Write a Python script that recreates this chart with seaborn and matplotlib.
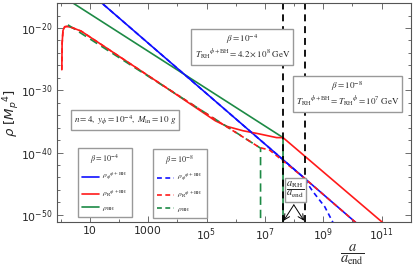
import numpy as np
import pandas as pd
import matplotlib
matplotlib.use("Agg")
import matplotlib.pyplot as plt
import seaborn as sns
from matplotlib.lines import Line2D
from matplotlib.ticker import FixedLocator, NullFormatter

# curves as (log10 a/a_end, log10 rho)
blue_solid_x = [0.0, 10.5]
blue_solid_y = [-10.29, -52.8]
blue_dash_x = [0.0, 8.3, 8.65, 9.05, 9.35]
blue_dash_y = [-10.29, -43.9, -46.3, -48.7, -51.4]

red_solid_x = [0.04, 0.05, 0.08, 0.14, 0.22, 0.40, 0.70, 3.40, 5.30, 5.70, 6.25, 6.80, 7.40, 7.62, 11.2]
red_solid_y = [-26.7, -22.5, -20.4, -19.8, -19.75, -19.95, -20.5, -28.9, -34.9, -35.8, -36.5, -37.0, -37.6, -37.6, -51.9]
red_dash_x = [0.04, 0.05, 0.08, 0.14, 0.22, 0.40, 0.70, 3.40, 5.30, 6.82, 7.16, 8.3, 10.5]
red_dash_y = [-26.7, -22.5, -20.4, -19.8, -19.75, -19.95, -20.5, -28.9, -34.7, -39.2, -39.6, -43.9, -52.8]

green_solid_x = [0.0, 7.62, 7.62]
green_solid_y = [-14.73, -37.6, -52.0]
green_dash_x = [0.25, 6.85, 6.85]
green_dash_y = [-19.5, -39.3, -52.0]

a_rh_exp = [7.62, 8.36]  # dashed reheating lines

x_ticks = [1, 3, 5, 7, 9, 11]
x_ticklabels = ["10", "1000", r"$10^{5}$", r"$10^{7}$", r"$10^{9}$", r"$10^{11}$"]
y_ticks = [-20, -30, -40, -50]
y_ticklabels = [r"$10^{-20}$", r"$10^{-30}$", r"$10^{-40}$", r"$10^{-50}$"]

BLUE = "#1010ff"
RED = "#ff1a1a"
GREEN = "#1d8a45"

sns.set_style("ticks")
plt.rcParams["font.family"] = ["DejaVu Sans"]
plt.rcParams["mathtext.fontset"] = "dejavusans"
plt.rcParams["lines.scale_dashes"] = False

fig = plt.figure(figsize=(4.15, 2.73), dpi=100)
ax = fig.add_axes([0.137, 0.187, 0.853, 0.802])


def draw(xs, ys, color, dashes=None, lw=1.2):
    df = pd.DataFrame({"a": 10.0 ** np.array(xs), "rho": 10.0 ** np.array(ys)})
    kw = dict(linestyle=(0, dashes)) if dashes else {}
    sns.lineplot(data=df, x="a", y="rho", sort=False, estimator=None,
                 color=color, lw=lw, ax=ax, **kw)


draw(green_solid_x, green_solid_y, GREEN)
draw(blue_solid_x, blue_solid_y, BLUE)
draw(red_solid_x, red_solid_y, RED)
draw(green_dash_x, green_dash_y, GREEN, dashes=(6, 3.5))
draw(red_dash_x, red_dash_y, RED, dashes=(3.5, 2.5))
draw(blue_dash_x, blue_dash_y, BLUE, dashes=(3.5, 2.5))

for e in a_rh_exp:
    ax.axvline(10.0 ** e, color="black", lw=1.3, linestyle=(0, (5, 3.5)))

ax.set_xscale("log")
ax.set_yscale("log")
ax.set_xlim(10 ** -0.13, 10 ** 12.0)
ax.set_ylim(10 ** -51.14, 10 ** -15.99)

ax.xaxis.set_major_locator(FixedLocator([10.0 ** t for t in x_ticks]))
ax.set_xticklabels(x_ticklabels)
ax.xaxis.set_minor_locator(FixedLocator([10.0 ** t for t in range(0, 13)]))
ax.xaxis.set_minor_formatter(NullFormatter())
ax.yaxis.set_major_locator(FixedLocator([10.0 ** t for t in y_ticks]))
ax.set_yticklabels(y_ticklabels)
ax.yaxis.set_minor_locator(FixedLocator([10.0 ** t for t in range(-52, -14, 2)]))
ax.yaxis.set_minor_formatter(NullFormatter())
ax.tick_params(which="both", direction="in", top=True, right=True,
               labelsize=7.8, color="#555555", width=0.6, pad=3)
ax.tick_params(which="major", length=4)
ax.tick_params(which="minor", length=2)
for s in ax.spines.values():
    s.set_color("#555555")
    s.set_linewidth(0.8)

ax.set_xlabel("")
ax.set_ylabel(r"$\rho\ [M_p{}^4]$", fontsize=9.5, va="center")
ax.yaxis.set_label_coords(-0.128, 0.5)
fig.text(0.848, 0.066, r"$\dfrac{a}{a_{\rm end}}$", fontsize=10.5, ha="center",
         va="center", math_fontfamily="stix")

box = dict(boxstyle="square,pad=0.35", facecolor="white", edgecolor="#999999", lw=1)
tkw = dict(transform=ax.transAxes, ha="center", va="center", fontsize=6.5,
           family="Liberation Serif", math_fontfamily="stix", bbox=box)
ax.text(0.524, 0.797, "$\\beta = 10^{-4}$\n"
        r"$T_{\rm RH}{}^{\phi+{\rm BH}} = 4.2\times 10^{8}\ {\rm GeV}$", **tkw)
ax.text(0.821, 0.584, "$\\beta = 10^{-8}$\n"
        r"$T_{\rm RH}{}^{\phi+{\rm BH}} = T_{\rm RH}{}^{\phi} = 10^{7}\ {\rm GeV}$", **tkw)
ax.text(0.192, 0.466, r"$n = 4,\ y_{\phi} = 10^{-4},\ M_{\rm in} = 10\ g$", **tkw)
ax.text(0.674, 0.146, r"$\dfrac{a_{\rm RH}}{a_{\rm end}}$",
        **{**tkw, "fontsize": 7.5, "bbox": dict(box, boxstyle="square,pad=0.15")})

mid = np.mean(a_rh_exp)
for e in a_rh_exp:
    ax.annotate("", xy=(10.0 ** (e + 0.02 * np.sign(mid - e)), 10 ** -50.95),
                xytext=(10.0 ** mid, 10 ** -48.4),
                arrowprops=dict(arrowstyle="->", lw=0.7, color="black",
                                shrinkA=0, shrinkB=0))

labels = [r"$\rho_{\phi}{}^{\phi+{\rm BH}}$", r"$\rho_{\rm R}{}^{\phi+{\rm BH}}$", r"$\rho_{\rm BH}$"]
lkw = dict(loc="lower left", fontsize=5.4, title_fontsize=5.8, frameon=True,
           fancybox=False, framealpha=1, edgecolor="#999999", handlelength=2.3,
           labelspacing=0.7, borderpad=0.55, handletextpad=0.4, borderaxespad=0)
h1 = [Line2D([], [], color=c, lw=1.2) for c in (BLUE, RED, GREEN)]
leg1 = ax.legend(h1, labels, title=r"$\beta = 10^{-4}$", bbox_to_anchor=(0.059, 0.023), **lkw)
ax.add_artist(leg1)
h2 = [Line2D([], [], color=c, lw=1.2, linestyle=(0, (3.5, 2.5))) for c in (BLUE, RED, GREEN)]
leg2 = ax.legend(h2, labels, title=r"$\beta = 10^{-8}$", bbox_to_anchor=(0.271, 0.018), **lkw)
for lg in (leg1, leg2):
    for t in lg.get_texts() + [lg.get_title()]:
        t.set_family("Liberation Serif")
        t.set_math_fontfamily("stix")
    lg.get_frame().set_linewidth(1)

fig.savefig("out.png", dpi=100)
